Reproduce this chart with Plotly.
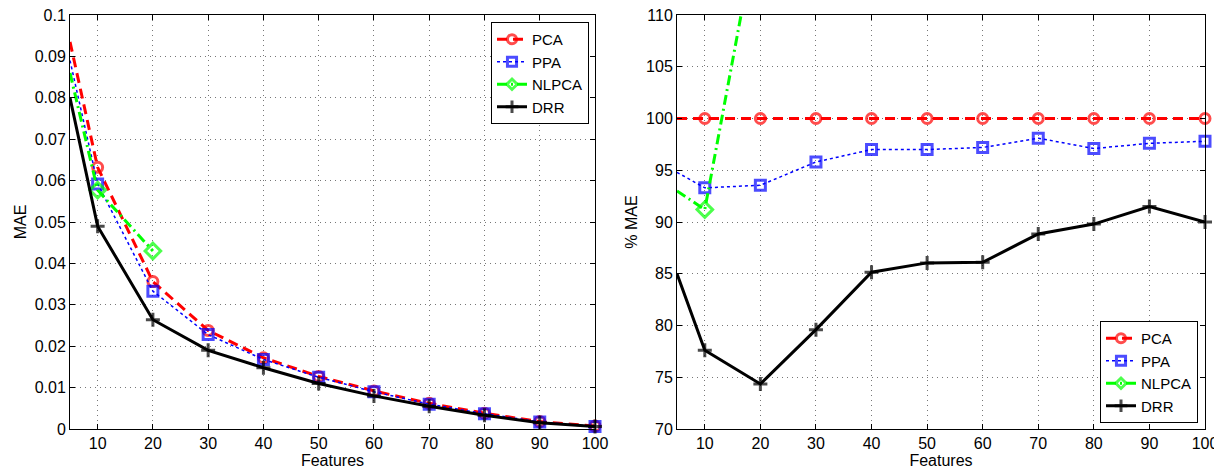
import plotly.graph_objects as go

# ---------------- data ----------------
features = [5, 10, 20, 30, 40, 50, 60, 70, 80, 90, 100]
nl_features = [5, 10, 20]

mae_pca = [0.0935, 0.0632, 0.0356, 0.0238, 0.0172, 0.0127, 0.0092, 0.0062, 0.0038, 0.0018, 0.0007]
mae_ppa = [0.0890, 0.0592, 0.0333, 0.0228, 0.0168, 0.0125, 0.0090, 0.0060, 0.0037, 0.0017, 0.0006]
mae_nlpca = [0.0860, 0.0577, 0.0430]
mae_drr = [0.0800, 0.0490, 0.0264, 0.0190, 0.0148, 0.0110, 0.0080, 0.0055, 0.0033, 0.0015, 0.0006]

pct_pca = [100, 100, 100, 100, 100, 100, 100, 100, 100, 100, 100]
pct_ppa = [94.8, 93.3, 93.55, 95.8, 97.0, 97.0, 97.2, 98.1, 97.1, 97.6, 97.8]
pct_nlpca = [93.0, 91.2, 120.0]
pct_drr = [85.0, 77.6, 74.35, 79.6, 85.15, 86.05, 86.1, 88.85, 89.8, 91.5, 90.0]

x_ticks = [10, 20, 30, 40, 50, 60, 70, 80, 90, 100]
mae_ticks = [0, 0.01, 0.02, 0.03, 0.04, 0.05, 0.06, 0.07, 0.08, 0.09, 0.1]
mae_ticklabels = ["0", "0.01", "0.02", "0.03", "0.04", "0.05", "0.06", "0.07", "0.08", "0.09", "0.1"]
pct_ticks = [70, 75, 80, 85, 90, 95, 100, 105, 110]
names = ["PCA", "PPA", "NLPCA", "DRR"]

# ---------------- styles ----------------
FONT = "Liberation Sans, Arial, sans-serif"
styles = {
    "PCA": dict(color="#ff0000", dash="10px,6px", lw=3, symbol="circle-open", ms=10, mlw=3),
    "PPA": dict(color="#0000ff", dash="dot", lw=1.5, symbol="square-open", ms=10, mlw=3),
    "NLPCA": dict(color="#00ff00", dash="10px,4px,2px,4px", lw=3, symbol="diamond-open", ms=12, mlw=3),
    "DRR": dict(color="#000000", dash="solid", lw=3, symbol="cross-thin", ms=10, mlw=3),
}


def sizes(xs, s):
    # first point sits on the axis edge and carries no marker
    return [0 if x == 5 else s for x in xs]


fig = go.Figure()

left = [(features, mae_pca), (features, mae_ppa), (nl_features, mae_nlpca), (features, mae_drr)]
right = [(features, pct_pca), (features, pct_ppa), (nl_features, pct_nlpca), (features, pct_drr)]

for panel, (series, xa, ya, lg) in enumerate([(left, "x", "y", "legend"), (right, "x2", "y2", "legend2")]):
    for name, (xs, ys) in zip(names, series):
        st = styles[name]
        fig.add_trace(go.Scatter(
            x=xs, y=ys, name=name, mode="lines+markers",
            xaxis=xa, yaxis=ya, legend=lg,
            line=dict(color=st["color"], dash=st["dash"], width=st["lw"]),
            marker=dict(symbol=st["symbol"], size=sizes(xs, st["ms"]), color=st["color"],
                        line=dict(color=st["color"], width=st["mlw"])),
            cliponaxis=(name == "NLPCA" and panel == 1),
        ))

# page body adds an 8px offset; all targets below are screen pixels
OFF = 8
W, H = 1222, 470
plot_left, plot_right, plot_top, plot_bottom = 70, 1205, 15, 429
ml = plot_left - OFF
mt = plot_top - OFF
mr = W - (plot_right - OFF)
mb = H - (plot_bottom - OFF)
pw = W - ml - mr
ph = H - mt - mb


def px(xs):
    return (xs - plot_left) / pw


def py(ys):
    return (plot_bottom - ys) / ph


d_left = (0, px(595))
d_right = (px(677), 1)

axis_common = dict(
    showline=True, linecolor="black", linewidth=1, mirror="ticks",
    ticks="inside", ticklen=5, tickcolor="black", automargin=False,
    ticklabeloverflow="allow",
    showgrid=True, gridcolor="#777777", griddash="1px,4px", gridwidth=1,
    zeroline=False, tickfont=dict(family=FONT, size=16, color="black"),
)

fig.update_layout(
    width=W, height=H,
    margin=dict(l=ml, r=mr, t=mt, b=mb, autoexpand=False),
    paper_bgcolor="white", plot_bgcolor="white",
    font=dict(family=FONT, color="black"),
    xaxis=dict(domain=d_left, range=[5, 100], tickvals=x_ticks, anchor="y",
               title=dict(text="Features", font=dict(size=16), standoff=0), **axis_common),
    yaxis=dict(range=[0, 0.1], tickvals=mae_ticks, ticktext=mae_ticklabels, anchor="x",
               title=dict(text="MAE", font=dict(size=16), standoff=4), **axis_common),
    xaxis2=dict(domain=d_right, range=[5, 100], tickvals=x_ticks, anchor="y2",
                title=dict(text="Features", font=dict(size=16), standoff=0), **axis_common),
    yaxis2=dict(range=[70, 110], tickvals=pct_ticks, anchor="x2",
                title=dict(text="% MAE", font=dict(size=16), standoff=4), **axis_common),
    legend=dict(x=px(589), y=py(22), xanchor="right", yanchor="top",
                bgcolor="white", bordercolor="black", borderwidth=1,
                font=dict(family=FONT, size=15), tracegroupgap=0, itemwidth=30),
    legend2=dict(x=px(1198), y=py(423), xanchor="right", yanchor="bottom",
                 bgcolor="white", bordercolor="black", borderwidth=1,
                 font=dict(family=FONT, size=15), tracegroupgap=0, itemwidth=30),
)

fig.write_html("out.html")
